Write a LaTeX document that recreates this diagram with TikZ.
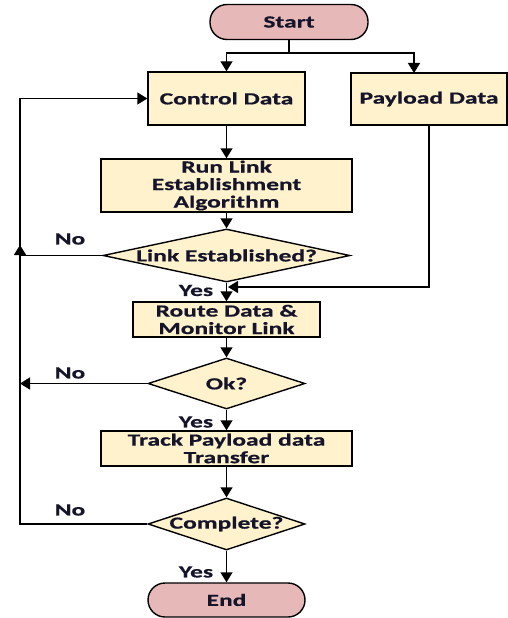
\documentclass[tikz,border=0pt]{standalone}
\usepackage{fontspec}
\setmainfont{Carlito}[FakeStretch=1.5, FakeBold=0.7]
\usetikzlibrary{shapes.geometric,arrows.meta}
\definecolor{pinkf}{HTML}{E6B9B8}
\definecolor{yelf}{HTML}{FFF2CC}
\definecolor{txt}{HTML}{14142A}
\tikzset{
  base/.style={draw=black, line width=1.4pt, inner sep=0pt, text=txt, align=center},
  term/.style={base, fill=pinkf, rectangle, rounded corners=17pt},
  proc/.style={base, fill=yelf, rectangle},
  dia/.style={base, fill=yelf, diamond},
  arr/.style={line width=1.4pt, -{Triangle[width=12pt,length=10pt]}},
  ln/.style={line width=1.4pt},
  lbl/.style={text=txt, inner sep=0pt}
}
\begin{document}
\begin{tikzpicture}[x=1pt,y=-1pt,font=\bfseries\fontsize{17}{17.5}\selectfont]
\useasboundingbox (0,0) rectangle (508,618);
\node[term, minimum width=158pt, minimum height=35pt] (st) at (289,22) {Start};
\node[proc, minimum width=157pt, minimum height=53pt] (cd) at (226.5,98.5) {Control Data};
\node[proc, minimum width=156pt, minimum height=52pt] (pl) at (429,99) {Payload Data};
\node[proc, minimum width=251pt, minimum height=53pt] (rl) at (226.5,185.5) {Run Link\\Establishment\\Algorithm};
\node[dia, minimum width=247pt, minimum height=53pt, label={[lbl]center:Link Established?}] (lk) at (226.5,255.5) {};
\node[proc, minimum width=187pt, minimum height=35pt] (rt) at (226.5,319.5) {Route Data \&\\Monitor Link};
\node[dia, minimum width=157pt, minimum height=51pt, label={[lbl]center:Ok?}] (ok) at (226.5,383.5) {};
\node[proc, minimum width=251pt, minimum height=35pt] (tr) at (226.5,448.5) {Track Payload data\\Transfer};
\node[dia, minimum width=157pt, minimum height=52pt, label={[lbl]center:Complete?}] (cm) at (226.5,524) {};
\node[term, minimum width=157pt, minimum height=34pt] (en) at (226.5,600) {End};

\node[lbl] (no1) at (70,239) {No};
\node[lbl] (no2) at (70,373) {No};
\node[lbl] (no3) at (70,510) {No};
\node[lbl] (y1) at (196,290.5) {Yes};
\node[lbl] (y2) at (196,422) {Yes};
\node[lbl] (y3) at (196,572) {Yes};

\coordinate (sp) at (289,53);
\coordinate (pin) at (414,73);
\coordinate (jn) at (228,287);
\coordinate (lu) at (20,245);
\coordinate (ltop) at (20,98.5);
\coordinate (lok) at (20,383.5);

\draw[arr] (st.south) -- (sp) -| (cd.north);
\draw[arr] (sp) -| (pin);
\draw[arr] (cd.south) -- (rl.north);
\draw[arr] (rl.south) -- (lk.north);
\draw[arr] (lk.south) -- (rt.north);
\draw[arr] (pl.south) |- (jn);
\draw[arr] (rt.south) -- (ok.north);
\draw[arr] (ok.south) -- (tr.north);
\draw[arr] (tr.south) -- (cm.north);
\draw[arr] (cm.south) -- (en.north);
\draw[arr] (lk.west) -| (lu);
\draw[arr] (ok.west) -- (lok);
\draw[arr] (cm.west) -| (ltop) -- (cd.west);
\end{tikzpicture}
\end{document}
